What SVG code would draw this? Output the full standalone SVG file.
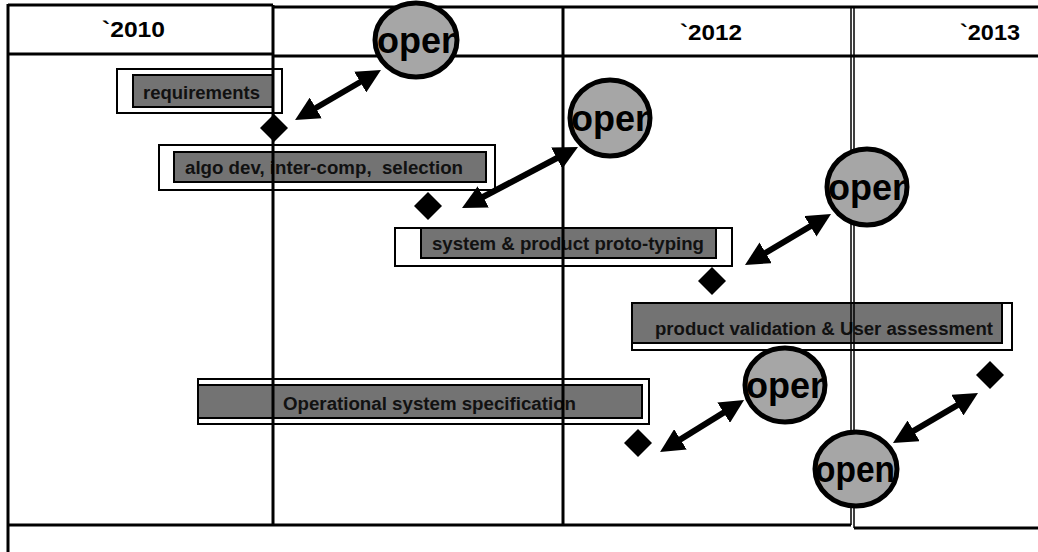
<svg xmlns="http://www.w3.org/2000/svg" width="1038" height="552" viewBox="0 0 1038 552">
<style>
.hdr{font-family:"Liberation Sans",Arial,sans-serif;font-weight:bold;font-size:22px;fill:#000}
.lbl{font-family:"Liberation Sans",Arial,sans-serif;font-weight:bold;font-size:18px;fill:#111}
.outer{fill:#fff;stroke:#000;stroke-width:2}
.inner{fill:#737373;stroke:#000;stroke-width:2}
.grid{stroke:#000;stroke-width:3;fill:none}
.thin{stroke:#000;stroke-width:1.5;fill:none}
.circ{fill:#a6a6a6;stroke:#000;stroke-width:5}
.open{font-family:"Liberation Sans",Arial,sans-serif;font-weight:bold;font-size:36px;fill:#000}
.arrow{stroke:#000;stroke-width:6;fill:none;marker-start:url(#head);marker-end:url(#head)}
</style>
<defs>
<marker id="head" viewBox="0 0 24 24" refX="9" refY="12" markerWidth="24" markerHeight="24" markerUnits="userSpaceOnUse" orient="auto-start-reverse">
<path d="M0,0 L24,12 L0,24 z" fill="#000"/>
</marker>
<path id="dia" d="M0,-14 L14,0 L0,14 L-14,0 z" fill="#000"/>
<clipPath id="c1"><ellipse cx="416" cy="40" rx="41" ry="37"/></clipPath>
<clipPath id="c2"><ellipse cx="610" cy="118" rx="40" ry="38"/></clipPath>
<clipPath id="c3"><ellipse cx="867" cy="187" rx="40" ry="38"/></clipPath>
<clipPath id="c4"><ellipse cx="785" cy="385" rx="40" ry="37"/></clipPath>
<clipPath id="c5"><ellipse cx="856" cy="469" rx="41" ry="37"/></clipPath>
</defs>
<rect width="1038" height="552" fill="#fff"/>

<g id="bar-requirements">
<rect class="outer" x="117" y="69" width="165" height="44"/>
<rect class="inner" x="133" y="75" width="140" height="32"/>
<text class="lbl" x="143" y="99" textLength="117" lengthAdjust="spacingAndGlyphs">requirements</text>
</g>
<g id="bar-algo">
<rect class="outer" x="159" y="145" width="336" height="45"/>
<rect class="inner" x="174" y="152" width="312" height="30"/>
<text class="lbl" x="185" y="174" textLength="278" lengthAdjust="spacingAndGlyphs" xml:space="preserve">algo dev, inter-comp,  selection</text>
</g>
<g id="bar-system">
<rect class="outer" x="395" y="228" width="337" height="38"/>
<rect class="inner" x="421" y="228" width="295" height="30"/>
<text class="lbl" x="432" y="250" textLength="272" lengthAdjust="spacingAndGlyphs">system &amp; product proto-typing</text>
</g>
<g id="bar-validation">
<rect class="outer" x="632" y="303" width="380" height="47"/>
<rect class="inner" x="632" y="303" width="370" height="40"/>
<text class="lbl" x="655" y="335" textLength="338" lengthAdjust="spacingAndGlyphs">product validation &amp; User assessment</text>
</g>
<g id="bar-operational">
<rect class="outer" x="198" y="379" width="451" height="45"/>
<rect class="inner" x="198" y="385" width="444" height="33"/>
<text class="lbl" x="283" y="410" textLength="293" lengthAdjust="spacingAndGlyphs">Operational system specification</text>
</g>

<g id="grid">
<path class="grid" d="M8,4 V552 M8,5 H273 M273,7 H1038 M8,54 H273 M273,56 H1038 M273,5 V525 M563,7 V525 M8,525 H851 M854,528 H1038"/>
<path class="thin" d="M851,7 V525 M854,7 V528"/>
<text class="hdr" x="102" y="37" textLength="63" lengthAdjust="spacingAndGlyphs">`2010</text>
<text class="hdr" x="680" y="40" textLength="62" lengthAdjust="spacingAndGlyphs">`2012</text>
<text class="hdr" x="960" y="40" textLength="60" lengthAdjust="spacingAndGlyphs">`2013</text>
</g>

<g id="connectors">
<line class="arrow" x1="308" y1="112.5" x2="368" y2="77.5"/>
<line class="arrow" x1="475.3" y1="201" x2="564.7" y2="154"/>
<line class="arrow" x1="757.9" y1="257.4" x2="818.1" y2="221.7"/>
<line class="arrow" x1="672.8" y1="444.1" x2="731.3" y2="407.9"/>
<line class="arrow" x1="905.9" y1="435.4" x2="965.1" y2="400.6"/>
</g>

<g id="milestone-1"><use href="#dia" x="274" y="128"/></g>
<g id="milestone-2"><use href="#dia" x="428" y="206"/></g>
<g id="milestone-3"><use href="#dia" x="712" y="281"/></g>
<g id="milestone-4"><use href="#dia" x="990" y="375"/></g>
<g id="milestone-5"><use href="#dia" x="638" y="443"/></g>

<g id="open-1">
<ellipse class="circ" cx="416" cy="40" rx="41" ry="37"/>
<text class="open" x="377" y="53" clip-path="url(#c1)">open</text>
</g>
<g id="open-2">
<ellipse class="circ" cx="610" cy="118" rx="40" ry="38"/>
<text class="open" x="571" y="131" clip-path="url(#c2)">open</text>
</g>
<g id="open-3">
<ellipse class="circ" cx="867" cy="187" rx="40" ry="38"/>
<text class="open" x="828" y="200" clip-path="url(#c3)">open</text>
</g>
<g id="open-4">
<ellipse class="circ" cx="785" cy="385" rx="40" ry="37"/>
<text class="open" x="746" y="398" clip-path="url(#c4)">open</text>
</g>
<g id="open-5">
<ellipse class="circ" cx="856" cy="469" rx="41" ry="37"/>
<text class="open" x="815" y="482" textLength="80" lengthAdjust="spacingAndGlyphs" clip-path="url(#c5)">open</text>
</g>
</svg>
